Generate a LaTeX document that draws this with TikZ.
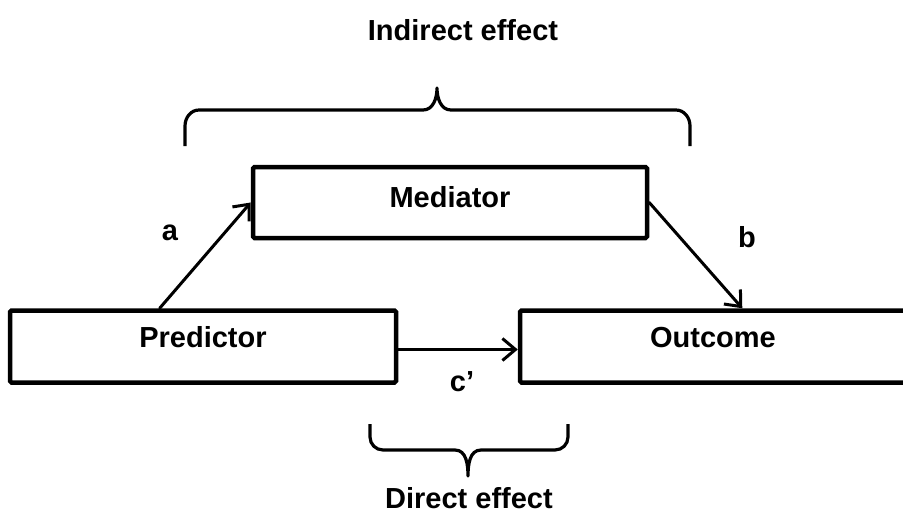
\documentclass[tikz,border=0pt]{standalone}
\usepackage{fontspec}
\setmainfont{Liberation Sans}
\usetikzlibrary{arrows.meta,calc}

\tikzset{
  lbl/.style={font=\fontsize{29}{34}\selectfont\bfseries, inner sep=0pt, anchor=base},
  boxnode/.style={draw, line width=4.5pt, rounded corners=1.5pt, inner sep=0pt,
    minimum width=386pt, minimum height=72pt,
    font=\fontsize{29}{34}\selectfont\bfseries},
  effect/.style={line width=3pt, -{Straight Barb[length=13pt,width=22pt,line width=3pt]},
    line cap=round},
  bracestyle/.style={line width=3.2pt, line join=round}
}

\begin{document}
\begin{tikzpicture}[x=1pt,y=-1pt]
  \clip (0,0) rectangle (903,515);
  \fill[white] (0,0) rectangle (903,515);

  % boxes
  \node[boxnode, minimum width=394pt, minimum height=71pt, text height=20pt, text depth=11pt]
    (med) at (450,202.5) {Mediator};
  \node[boxnode, text height=20pt, text depth=19pt] (pred) at (203,346.5) {Predictor};
  \node[boxnode, text height=20pt, text depth=19pt] (out) at (713,346.5) {Outcome};

  % paths
  \coordinate (aStart) at ($(pred.north west)!0.389!(pred.north east)$);
  \coordinate (bEnd) at ($(out.north west)!0.575!(out.north east)$);
  \draw[effect] (aStart) -- (med.west);
  \draw[effect] (med.east) -- (bEnd);
  \draw[effect] ($(pred.east)+(0,3)$) -- ($(out.west)+(0,3)$);

  % path labels
  \node[lbl] (la) at (170,240) {a};
  \node[lbl] (lb) at (747,247) {b};
  \node[lbl] (lc) at (462,391) {c’};

  % brace over the indirect path
  \draw[bracestyle] (185,146) -- (185,126) to[out=-90+180,in=180] (199,110)
    -- (423,110) to[out=0,in=-90] (437,88) to[out=-90,in=180] (451,110)
    -- (676,110) to[out=0,in=90] (690,126) -- (690,146);
  \node[lbl] (ind) at (463,40) {Indirect effect};

  % brace under the direct path
  \draw[bracestyle] (370,424) -- (370,437) to[out=-90,in=180] (383,450)
    -- (455,450) to[out=0,in=90] (468,476) to[out=90,in=180] (481,450)
    -- (555,450) to[out=0,in=-90] (568,437) -- (568,424);
  \node[lbl] (dir) at (469,508) {Direct effect};
\end{tikzpicture}
\end{document}
